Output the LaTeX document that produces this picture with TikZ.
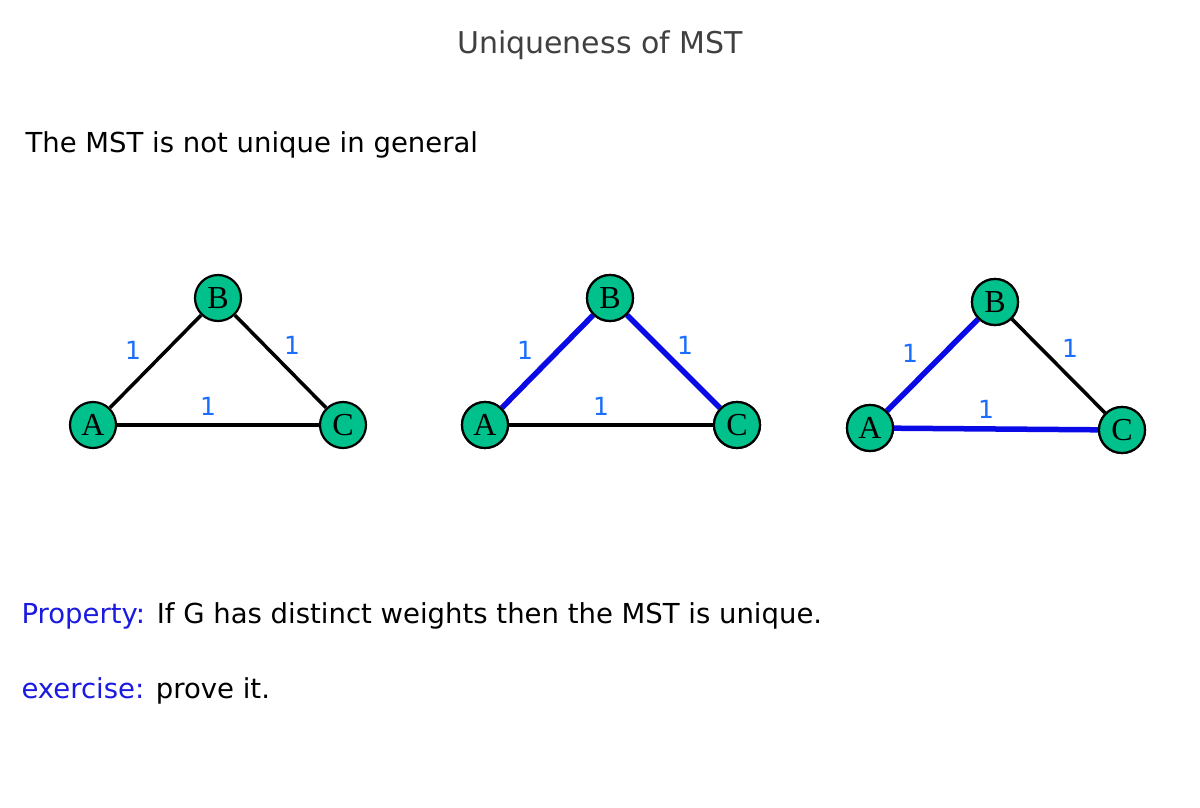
\documentclass[tikz,border=0pt]{standalone}
\usepackage{fontspec}
\setmainfont{DejaVu Sans}
\newfontfamily\serifnode{Liberation Serif}
\definecolor{nodegreen}{HTML}{00C08B}
\definecolor{lblblue}{HTML}{1A6EFF}
\definecolor{mstblue}{HTML}{0A0AE6}
\definecolor{propblue}{HTML}{1A1AE0}
\begin{document}
\begin{tikzpicture}[x=1pt,y=-1pt,
  vert/.style={circle,draw=black,line width=2.2pt,fill=nodegreen,minimum size=46pt,inner sep=0pt,font=\serifnode\fontsize{32}{32}\selectfont},
  edge/.style={draw=black,line width=3.5pt},
  mst/.style={draw=mstblue,line width=5.5pt},
  wt/.style={text=lblblue,font=\fontsize{25}{25}\selectfont},
  txt/.style={anchor=west,font=\fontsize{27.5}{27.5}\selectfont}]
\useasboundingbox (0,0) rectangle (1200,808);
\node[font=\fontsize{30}{30}\selectfont,text=black!75] (title) at (600,45) {Uniqueness of MST};
\node[txt] (intro) at (22,145) {The MST is not unique in general};
% graph 1
\node[vert] (A1) at (93,425) {A};
\node[vert] (B1) at (218,298) {B};
\node[vert] (C1) at (343,425) {C};
\draw[edge] (A1) -- (B1); \draw[edge] (B1) -- (C1); \draw[edge] (A1) -- (C1);
\node[wt] (w1a) at (133,350) {1};
\node[wt] (w1b) at (292,345) {1};
\node[wt] (w1c) at (208,406) {1};
% graph 2
\node[vert] (A2) at (485,425) {A};
\node[vert] (B2) at (610,298) {B};
\node[vert] (C2) at (737,425) {C};
\draw[edge] (A2) -- (C2);
\draw[mst] (A2) -- (B2); \draw[mst] (B2) -- (C2);
\node[vert] at (485,425) {A};
\node[vert] at (610,298) {B};
\node[vert] at (737,425) {C};
\node[wt] (w2a) at (525,350) {1};
\node[wt] (w2b) at (685,345) {1};
\node[wt] (w2c) at (601,406) {1};
% graph 3
\node[vert] (A3) at (870,428) {A};
\node[vert] (B3) at (995,302) {B};
\node[vert] (C3) at (1122,430) {C};
\draw[edge] (B3) -- (C3);
\draw[mst] (A3) -- (B3); \draw[mst] (A3) -- (C3);
\node[vert] at (870,428) {A};
\node[vert] at (995,302) {B};
\node[vert] at (1122,430) {C};
\node[wt] (w3a) at (910,353) {1};
\node[wt] (w3b) at (1070,348) {1};
\node[wt] (w3c) at (986,409) {1};
% texts
\node[txt] (prop) at (18,616) {\textcolor{propblue}{Property:} If G has distinct weights then the MST is unique.};
\node[txt] (ex) at (18,691) {\textcolor{propblue}{exercise:} prove it.};
\end{tikzpicture}
\end{document}
